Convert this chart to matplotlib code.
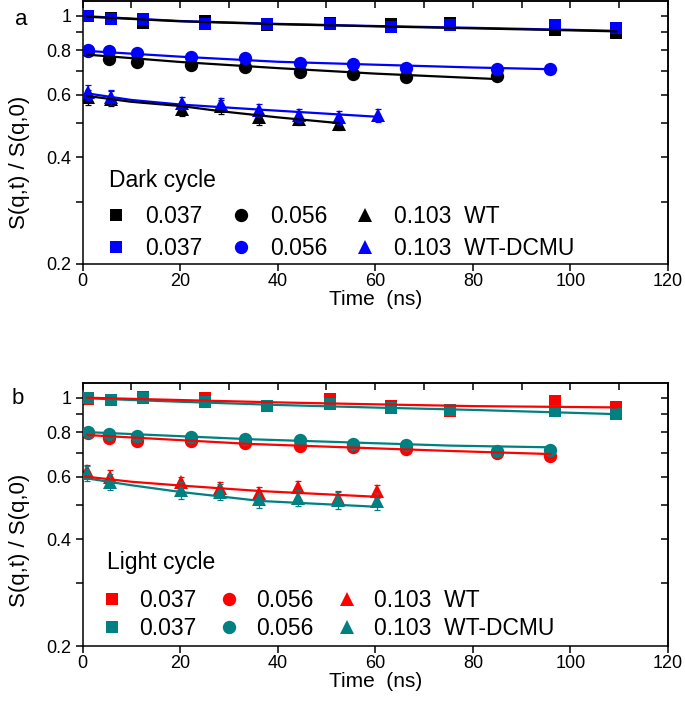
import matplotlib
matplotlib.use("Agg")
import matplotlib.pyplot as plt
from matplotlib.ticker import NullFormatter, NullLocator, FixedLocator

plt.rcParams['font.family'] = ['Liberation Sans', 'DejaVu Sans']

# ---------------- data ----------------
q_labels = ["0.037", "0.056", "0.103"]

# times (ns)
t_sq = [1.1, 5.8, 12.4, 25.2, 37.8, 50.7, 63.2, 75.4, 96.8, 109.4]
t_ci = [1.2, 5.4, 11.2, 22.3, 33.4, 44.5, 55.5, 66.4, 85.0, 95.9]
t_tr = [1.1, 5.8, 20.3, 28.4, 36.2, 44.4, 52.5, 60.5]

# ---- panel a: dark cycle ----
a_wt_sq = [1.0, 0.985, 0.954, 0.966, 0.945, 0.958, 0.952, 0.958, 0.911, 0.898]
a_dc_sq = [0.998, 0.979, 0.979, 0.952, 0.947, 0.947, 0.931, 0.941, 0.941, 0.928]
a_wt_ci = [0.795, 0.754, 0.742, 0.726, 0.718, 0.695, 0.685, 0.673, 0.676]
a_dc_ci = [0.801, 0.795, 0.787, 0.767, 0.761, 0.739, 0.730, 0.715, 0.711, 0.708]
a_wt_tr = [0.59, 0.585, 0.548, 0.556, 0.519, 0.514, 0.496]
a_dc_tr = [0.611, 0.59, 0.568, 0.566, 0.542, 0.525, 0.519, 0.525]
a_wt_tr_err = [0.03, 0.028, 0.025, 0.025, 0.025, 0.022, 0.02]
a_dc_tr_err = [0.03, 0.028, 0.022, 0.022, 0.022, 0.022, 0.022, 0.022]

# fit curves
fa_wt_sq_t = [1, 20, 40, 60, 80, 100, 109.4]
fa_wt_sq = [0.995, 0.966, 0.948, 0.935, 0.923, 0.911, 0.905]
fa_dc_sq_t = [1, 20, 40, 60, 80, 100, 109.4]
fa_dc_sq = [0.998, 0.968, 0.950, 0.937, 0.926, 0.914, 0.908]
fa_wt_ci_t = [1, 20, 40, 60, 85]
fa_wt_ci = [0.778, 0.742, 0.713, 0.688, 0.664]
fa_dc_ci_t = [1, 20, 40, 60, 80, 95.9]
fa_dc_ci = [0.797, 0.768, 0.743, 0.729, 0.716, 0.708]
fa_wt_tr_t = [1, 10, 20.4, 28.3, 40, 52.5]
fa_wt_tr = [0.595, 0.573, 0.557, 0.539, 0.518, 0.499]
fa_dc_tr_t = [1, 10, 20, 36, 60.4]
fa_dc_tr = [0.605, 0.58, 0.563, 0.545, 0.52]

# ---- panel b: light cycle ----
tb_tr = [1.0, 5.7, 20.1, 28.2, 36.1, 44.2, 52.4, 60.4]
b_wt_sq = [0.993, 0.985, 1.007, 0.995, 0.95, 0.99, 0.947, 0.92, 0.979, 0.943]
b_dc_sq = [0.996, 0.985, 0.996, 0.974, 0.949, 0.958, 0.937, 0.923, 0.918, 0.898]
b_wt_ci = [0.795, 0.768, 0.753, 0.757, 0.744, 0.732, 0.728, 0.717, 0.701, 0.687]
b_dc_ci = [0.802, 0.789, 0.780, 0.777, 0.764, 0.760, 0.741, 0.736, 0.708, 0.712]
b_wt_tr = [0.62, 0.599, 0.578, 0.556, 0.54, 0.562, 0.523, 0.545]
b_dc_tr = [0.612, 0.579, 0.55, 0.544, 0.518, 0.523, 0.514, 0.512]
b_wt_tr_err = [0.025, 0.025, 0.022, 0.022, 0.022, 0.022, 0.022, 0.022]
b_dc_tr_err = [0.03, 0.03, 0.03, 0.028, 0.028, 0.028, 0.028, 0.028]

fb_wt_sq_t = [1, 20, 40, 60, 80, 109.4]
fb_wt_sq = [1.0, 0.985, 0.97, 0.958, 0.947, 0.939]
fb_dc_sq_t = [1, 20, 40, 60, 80, 109.4]
fb_dc_sq = [0.996, 0.974, 0.954, 0.938, 0.924, 0.899]
fb_wt_ci_t = [1, 34.4, 75.4, 95.9]
fb_wt_ci = [0.785, 0.741, 0.708, 0.694]
fb_dc_ci_t = [1, 34.4, 75.4, 95.9]
fb_dc_ci = [0.80, 0.764, 0.733, 0.725]
fb_wt_tr_t = [0.5, 10, 20, 36.5, 60.4]
fb_wt_tr = [0.60, 0.58, 0.566, 0.546, 0.526]
fb_dc_tr_t = [0.5, 10, 20, 36.5, 60.4]
fb_dc_tr = [0.594, 0.567, 0.543, 0.512, 0.493]

# ---------------- figure ----------------
W, H = 685, 720
fig = plt.figure(figsize=(W / 100, H / 100), dpi=100)

def px_axes(l, t, r, b):
    return fig.add_axes([l / W, 1 - b / H, (r - l) / W, (b - t) / H])

MS_SQ, MS_CI, MS_TR = 8.6, 9.6, 10.2
FS_TICK, FS_LAB, FS_LEG = 13, 15, 16.5


def style_axes(ax):
    ax.set_yscale('log')
    ax.set_xlim(0, 120)
    ax.set_ylim(0.2, 1.1)
    ax.yaxis.set_major_locator(FixedLocator([0.2, 0.4, 0.6, 0.8, 1.0]))
    ax.set_yticklabels(['0.2', '0.4', '0.6', '0.8', '1'])
    ax.yaxis.set_minor_locator(FixedLocator([0.3, 0.5, 0.7, 0.9]))
    ax.yaxis.set_minor_formatter(NullFormatter())
    ax.xaxis.set_major_locator(FixedLocator(list(range(0, 121, 20))))
    ax.xaxis.set_minor_locator(NullLocator())
    ax.tick_params(axis='both', which='both', direction='out', length=5,
                   width=1.1, labelsize=FS_TICK, top=False, right=False)
    ax.tick_params(axis='x', pad=1.5)
    ax.tick_params(axis='y', pad=3)
    for s in ax.spines.values():
        s.set_linewidth(1.1)
    sx = ax.secondary_xaxis('top')
    sx.xaxis.set_major_locator(FixedLocator(list(range(0, 121, 10))))
    sx.xaxis.set_minor_locator(NullLocator())
    sx.tick_params(direction='in', length=5, width=1.1, labeltop=False)
    sy = ax.secondary_yaxis('right')
    sy.yaxis.set_major_locator(FixedLocator([0.3, 0.4, 0.5, 0.6, 0.7, 0.8, 0.9, 1.0]))
    sy.yaxis.set_minor_locator(NullLocator())
    sy.tick_params(direction='in', length=5, width=1.1, labelright=False)
    for s in list(sx.spines.values()) + list(sy.spines.values()):
        s.set_linewidth(1.1)


def draw_panel(ax, c1, c2, d1, d2, fits1, fits2, t_tri, title, title_xy, leg_kw):
    (wt_sq, wt_ci, wt_tr, wt_err) = d1
    (dc_sq, dc_ci, dc_tr, dc_err) = d2
    ax.errorbar(t_tri[:len(wt_tr)], wt_tr, yerr=wt_err, fmt='none', ecolor=c1,
                elinewidth=0.9, capsize=2.5, capthick=0.9, zorder=1.5)
    ax.errorbar(t_tri[:len(dc_tr)], dc_tr, yerr=dc_err, fmt='none', ecolor=c2,
                elinewidth=0.9, capsize=2.5, capthick=0.9, zorder=2.5)
    h1s, = ax.plot(t_sq[:len(wt_sq)], wt_sq, ls='none', marker='s', ms=MS_SQ, color=c1, mew=0, zorder=2)
    h1c, = ax.plot(t_ci[:len(wt_ci)], wt_ci, ls='none', marker='o', ms=MS_CI, color=c1, mew=0, zorder=2)
    h1t, = ax.plot(t_tri[:len(wt_tr)], wt_tr, ls='none', marker='^', ms=MS_TR, color=c1, mew=0, zorder=2)
    h2s, = ax.plot(t_sq[:len(dc_sq)], dc_sq, ls='none', marker='s', ms=MS_SQ, color=c2, mew=0, zorder=3)
    h2c, = ax.plot(t_ci[:len(dc_ci)], dc_ci, ls='none', marker='o', ms=MS_CI, color=c2, mew=0, zorder=3)
    h2t, = ax.plot(t_tri[:len(dc_tr)], dc_tr, ls='none', marker='^', ms=MS_TR, color=c2, mew=0, zorder=3)
    for (ft, fv) in fits2:
        ax.plot(ft, fv, color=c2, lw=1.6, zorder=4)
    for (ft, fv) in fits1:
        ax.plot(ft, fv, color=c1, lw=1.6, zorder=4.5)
    handles = [h1s, h2s, h1c, h2c, h1t, h2t]
    labels = [q_labels[0], q_labels[0], q_labels[1], q_labels[1],
              q_labels[2] + "  WT", q_labels[2] + "  WT-DCMU"]
    ax.legend(handles, labels, ncol=3, fontsize=FS_LEG, frameon=False,
              numpoints=1, handlelength=1.0, loc='upper left',
              borderaxespad=0.0, borderpad=0.4, **leg_kw)
    ax.text(title_xy[0], title_xy[1], title, transform=ax.transAxes,
            fontsize=FS_LEG, ha='left', va='center')
    ax.set_xlabel('Time  (ns)', fontsize=FS_LAB)
    ax.set_ylabel('S(q,t) / S(q,0)', fontsize=FS_LAB + 1)


# ---- panel a ----
axa = px_axes(82.5, 1.3, 668, 264)
style_axes(axa)
draw_panel(axa, 'black', '#0000ff',
           (a_wt_sq, a_wt_ci, a_wt_tr, a_wt_tr_err),
           (a_dc_sq, a_dc_ci, a_dc_tr, a_dc_tr_err),
           [(fa_wt_sq_t, fa_wt_sq), (fa_wt_ci_t, fa_wt_ci), (fa_wt_tr_t, fa_wt_tr)],
           [(fa_dc_sq_t, fa_dc_sq), (fa_dc_ci_t, fa_dc_ci), (fa_dc_tr_t, fa_dc_tr)],
           t_tr, 'Dark cycle', (0.046, 0.316),
           dict(bbox_to_anchor=(0.022, 0.259), handletextpad=0.77,
                columnspacing=1.17, labelspacing=0.38))
axa.xaxis.set_label_coords(0.5, -0.10)
axa.yaxis.set_label_coords(-0.09, 0.385)
axa.text(-0.105, 0.93, 'a', transform=axa.transAxes, fontsize=FS_LAB + 1,
         ha='center', va='center')

# ---- panel b ----
axb = px_axes(82.5, 383, 668, 646)
style_axes(axb)
draw_panel(axb, '#ff0000', '#008080',
           (b_wt_sq, b_wt_ci, b_wt_tr, b_wt_tr_err),
           (b_dc_sq, b_dc_ci, b_dc_tr, b_dc_tr_err),
           [(fb_wt_sq_t, fb_wt_sq), (fb_wt_ci_t, fb_wt_ci), (fb_wt_tr_t, fb_wt_tr)],
           [(fb_dc_sq_t, fb_dc_sq), (fb_dc_ci_t, fb_dc_ci), (fb_dc_tr_t, fb_dc_tr)],
           tb_tr, 'Light cycle', (0.042, 0.316),
           dict(bbox_to_anchor=(0.0145, 0.253), handletextpad=0.68,
                columnspacing=0.96, labelspacing=0.24))
axb.xaxis.set_label_coords(0.5, -0.10)
axb.yaxis.set_label_coords(-0.09, 0.40)
axb.text(-0.11, 0.94, 'b', transform=axb.transAxes, fontsize=FS_LAB + 1,
         ha='center', va='center')

fig.savefig('out.png', dpi=100)
